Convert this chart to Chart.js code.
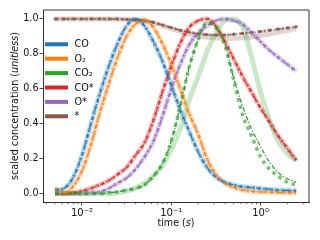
<!DOCTYPE html>
<html><head><meta charset="utf-8">
<script src="https://cdn.jsdelivr.net/npm/chart.js@4.4.1/dist/chart.umd.min.js"></script>
<style>html,body{margin:0;padding:0;background:#fff}canvas{display:block}</style>
</head><body>
<canvas id="c" width="320" height="240"></canvas>
<script>
// ---- data ----
const times = [0.005,0.0063,0.0079,0.01,0.0126,0.0158,0.02,0.0251,0.0316,0.0398,0.0501,0.0631,0.0794,0.1,0.126,0.158,0.2,0.251,0.316,0.398,0.501,0.631,0.794,1.0,1.26,1.58,2.0,2.51];
const co       = [0.02,0.03,0.09,0.22,0.40,0.57,0.73,0.86,0.96,1.0,0.96,0.87,0.76,0.62,0.48,0.36,0.24,0.15,0.095,0.065,0.05,0.04,0.035,0.03,0.025,0.02,0.018,0.016];
const o2       = [0.03,0.005,0.04,0.13,0.28,0.46,0.63,0.78,0.90,0.97,0.995,0.95,0.86,0.74,0.60,0.46,0.34,0.20,0.11,0.06,0.035,0.02,0.013,0.01,0.008,0.006,0.005,0.004];
const co2Faded = [0,0,0,0,0,0,0,0.005,0.015,0.03,0.06,0.10,0.16,0.25,0.37,0.53,0.67,0.81,0.92,0.99,1.0,0.95,0.78,0.58,0.42,0.30,0.23,0.19];
const co2Dash  = [0,0,0,0,0,0,0.005,0.01,0.02,0.03,0.05,0.10,0.17,0.30,0.50,0.72,0.88,0.98,0.95,0.86,0.66,0.50,0.37,0.27,0.18,0.12,0.085,0.065];
const co2Dot   = [0,0,0,0,0,0,0.005,0.01,0.02,0.03,0.05,0.10,0.17,0.30,0.50,0.72,0.88,0.98,0.95,0.85,0.65,0.45,0.33,0.21,0.14,0.10,0.065,0.05];
const coStar   = [0,0,0.005,0.015,0.03,0.05,0.075,0.11,0.15,0.22,0.29,0.42,0.58,0.73,0.86,0.95,0.99,1.0,0.96,0.87,0.77,0.67,0.58,0.49,0.41,0.33,0.26,0.19];
const oStar    = [0,0,0,0,0.005,0.01,0.03,0.06,0.09,0.14,0.21,0.30,0.44,0.60,0.74,0.85,0.92,0.96,0.99,1.0,0.99,0.97,0.92,0.87,0.82,0.78,0.74,0.70];
const star     = [1,1,1,1,1,1,1,0.999,0.997,0.994,0.99,0.98,0.965,0.95,0.935,0.925,0.915,0.91,0.908,0.908,0.912,0.917,0.922,0.928,0.935,0.942,0.948,0.955];
const starFaded= [1,1,1,1,1,1,1,0.999,0.997,0.994,0.988,0.977,0.962,0.945,0.928,0.913,0.902,0.895,0.89,0.888,0.889,0.892,0.897,0.905,0.914,0.924,0.934,0.944];

const speciesLabels = ['CO','O₂','CO₂','CO*','O*','*'];
const yTicks = [0,0.2,0.4,0.6,0.8,1.0];
const xMajorTicks = [0.01,0.1,1];
const xMajorLabels = ['10⁻²','10⁻¹','10⁰'];
const xMinorTicks = [0.004,0.005,0.006,0.007,0.008,0.009,0.02,0.03,0.04,0.05,0.06,0.07,0.08,0.09,0.2,0.3,0.4,0.5,0.6,0.7,0.8,0.9,2,3];
const xTitle = ['time (','s',')'];
const yTitle = ['scaled concentration (','unitless',')'];

// ---- styling ----
const colors = ['#1f77b4','#ff7f0e','#2ca02c','#d62728','#9467bd','#8c564b'];
const FONT = 'DejaVu Sans';
const FS = 9.6;
function rgba(hex,a){const n=parseInt(hex.slice(1),16);return `rgba(${n>>16&255},${n>>8&255},${n&255},${a})`;}
const pts = arr => times.map((t,i)=>({x:t,y:arr[i]}));

const series = [
  {faded:co, dash:co, dot:co},
  {faded:o2, dash:o2, dot:o2},
  {faded:co2Faded, dash:co2Dash, dot:co2Dot, dotted:true},
  {faded:coStar, dash:coStar, dot:coStar},
  {faded:oStar, dash:oStar, dot:oStar},
  {faded:starFaded, dash:star, dot:star, markers:true},
];

const datasets = [];
series.forEach((s,i)=>{
  const c = colors[i];
  datasets.push({label:speciesLabels[i], data:pts(s.faded), borderColor:rgba(c,0.25), borderWidth:5,
    pointRadius:0, order:2, cubicInterpolationMode:'monotone'});
  datasets.push({label:speciesLabels[i]+'_dot', data:pts(s.dot), borderColor:rgba(c,s.dotted?0.65:0.55),
    borderWidth:s.dotted?3.5:3, borderDash:s.dotted?[3.5,4]:[3,3],
    pointRadius:s.markers?2:0, pointStyle:'rect', pointBackgroundColor:rgba(c,0.85),
    pointBorderWidth:0, order:1, cubicInterpolationMode:'monotone'});
  datasets.push({label:speciesLabels[i]+'_dash', data:pts(s.dash), borderColor:c, borderWidth:1.3,
    borderDash:[4.5,1.8,1.2,1.8], pointRadius:0, order:0, cubicInterpolationMode:'monotone'});
});

function drawMixed(ctx, parts, cx, cy, rot){
  ctx.save();
  ctx.translate(cx,cy); ctx.rotate(rot);
  const fonts = parts.map((p,i)=> (i===1?'italic ':'') + FS+'px "'+FONT+'"');
  let w=0; const ws=[];
  parts.forEach((p,i)=>{ctx.font=fonts[i]; const m=ctx.measureText(p).width; ws.push(m); w+=m;});
  let xx=-w/2;
  ctx.textBaseline='middle'; ctx.textAlign='left'; ctx.fillStyle='#111';
  parts.forEach((p,i)=>{ctx.font=fonts[i]; ctx.fillText(p,xx,0); xx+=ws[i];});
  ctx.restore();
}

const decor = {
  id:'decor',
  afterDraw(chart){
    const {ctx, chartArea:a, scales:{x}} = chart;
    ctx.save();
    ctx.strokeStyle='#333'; ctx.lineWidth=1;
    ctx.beginPath();
    ctx.moveTo(a.left,a.top); ctx.lineTo(a.right,a.top); ctx.lineTo(a.right,a.bottom);
    ctx.stroke();
    ctx.beginPath();
    xMinorTicks.forEach(v=>{const px=x.getPixelForValue(v); ctx.moveTo(px,a.bottom); ctx.lineTo(px,a.bottom+2.2);});
    ctx.lineWidth=0.7; ctx.stroke();
    drawMixed(ctx, xTitle, (a.left+a.right)/2, 223, 0);
    drawMixed(ctx, yTitle, 15.5, (a.top+a.bottom)/2, -Math.PI/2);
    // legend
    speciesLabels.forEach((lab,i)=>{
      const yy = 44.3 + 14.4*i;
      ctx.strokeStyle = colors[i]; ctx.lineWidth=4; ctx.setLineDash([]);
      ctx.beginPath(); ctx.moveTo(45,yy); ctx.lineTo(68,yy); ctx.stroke();
      ctx.fillStyle='#111'; ctx.font=FS+'px "'+FONT+'"'; ctx.textBaseline='middle'; ctx.textAlign='left';
      ctx.fillText(lab, 74.5, yy+0.5);
    });
    ctx.restore();
  }
};

new Chart(document.getElementById('c'), {
  type:'line',
  data:{datasets},
  options:{
    responsive:false, animation:false, devicePixelRatio:1,
    layout:{padding:{top:10,right:11,left:0,bottom:0}},
    plugins:{legend:{display:false}, tooltip:{enabled:false}},
    scales:{
      x:{type:'logarithmic', min:0.00366, max:3.49,
        afterBuildTicks: s => { s.ticks = xMajorTicks.map(v=>({value:v, major:true})); },
        afterFit: s => { s.height = 38; },
        ticks:{autoSkip:false, maxRotation:0, minRotation:0, padding:2, color:'#111',
          font:{family:FONT, size:10},
          callback:(v)=>{const k=xMajorTicks.findIndex(m=>Math.abs(m-v)/m<1e-6); return k>=0?xMajorLabels[k]:'';}},
        grid:{display:true, drawOnChartArea:false, drawTicks:true, tickLength:3.5, tickColor:'#333', tickWidth:0.9},
        border:{display:true, color:'#333', width:1}
      },
      y:{type:'linear', min:-0.048, max:1.051,
        afterBuildTicks: s => { s.ticks = yTicks.map(v=>({value:v})); },
        afterFit: s => { s.width = 43; },
        ticks:{padding:1, color:'#111', font:{family:FONT, size:FS}, callback:v=>v.toFixed(1)},
        grid:{display:true, drawOnChartArea:false, drawTicks:true, tickLength:3.5, tickColor:'#333', tickWidth:0.9},
        border:{display:true, color:'#333', width:1}
      }
    }
  },
  plugins:[decor]
});
</script>
</body></html>
